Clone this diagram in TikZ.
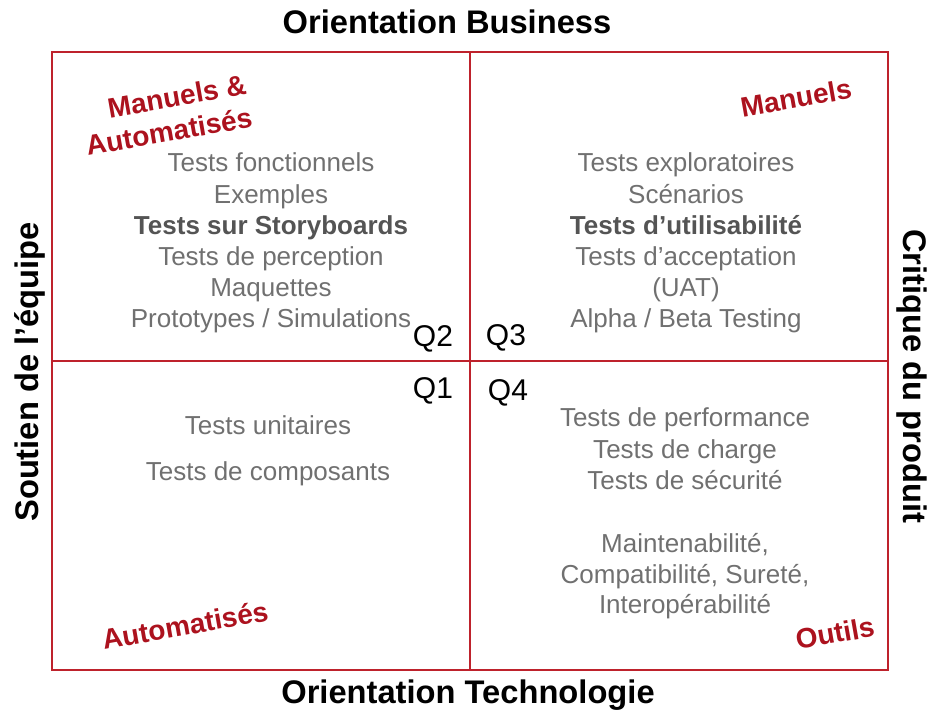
\documentclass[tikz,border=0pt]{standalone}
\usepackage{fontspec}
\setmainfont{Liberation Sans}
\usetikzlibrary{positioning}
\definecolor{rougecadre}{RGB}{190,34,44}
\definecolor{rougetitre}{RGB}{172,18,30}
\definecolor{grisclair}{RGB}{112,112,112}
\definecolor{grisfonce}{RGB}{84,84,84}

\tikzset{
  axe/.style={font=\fontsize{24.5}{28}\selectfont\bfseries, inner sep=0pt},
  liste/.style={text=grisclair, font=\fontsize{19.5}{23}\selectfont, inner sep=0pt,
    text height=14pt, text depth=4pt},
  mode/.style={text=rougetitre, font=\fontsize{21}{25}\selectfont\bfseries,
    rotate=10, align=right, inner sep=0pt},
  quad/.style={font=\fontsize{22.5}{26}\selectfont, inner sep=0pt},
  cadre/.style={rougecadre, line width=1.5pt}
}

\begin{document}
\begin{tikzpicture}[x=0.75pt,y=-0.75pt]
\useasboundingbox (0,0) rectangle (931,716);
\coordinate (no) at (52,52);
\coordinate (se) at (888,670);
\coordinate (haut) at (470,52);
\coordinate (bas) at (470,670);
\coordinate (gauche) at (52,361);
\coordinate (droite) at (888,361);
\draw[cadre] (no) rectangle (se);
\draw[cadre] (haut) -- (bas);
\draw[cadre] (gauche) -- (droite);
\node[axe] (business) at (447,22) {Orientation Business};
\node[axe] (techno) at (468,695) {Orientation Technologie};
\node[axe, rotate=90] (equipe) at (30,372) {Soutien de l’équipe};
\node[axe, rotate=-90] (produit) at (912,376) {Critique du produit};
\node[mode] (manauto) at (166,115) {Manuels \&\\Automatisés};
\node[mode] (manuels) at (796,98) {Manuels};
\node[mode] (auto) at (185,625) {Automatisés};
\node[mode] (outils) at (835,633) {Outils};
\node[quad] (q2) at (433,339) {Q2};
\node[quad] (q3) at (506,338) {Q3};
\node[quad] (q1) at (433,391) {Q1};
\node[quad] (q4) at (508,393) {Q4};
\foreach \t [count=\i] in {Tests fonctionnels, Exemples,
  {\textcolor{grisfonce}{\bfseries Tests sur Storyboards}}, Tests de perception,
  Maquettes, Prototypes / Simulations}
  \node[liste] (gq2-\i) at (271,134+31.2*\i) {\t};
\foreach \t [count=\i] in {Tests exploratoires, Scénarios,
  {\textcolor{grisfonce}{\bfseries Tests d’utilisabilité}}, Tests d’acceptation,
  (UAT), Alpha / Beta Testing}
  \node[liste] (gq3-\i) at (686,134+31.2*\i) {\t};
\node[liste] (gq1-1) at (268,428) {Tests unitaires};
\node[liste] (gq1-2) at (268,474) {Tests de composants};
\foreach \t/\y in {Tests de performance/420, Tests de charge/452,
  Tests de sécurité/483, {Maintenabilité,}/546,
  {Compatibilité, Sureté,}/577, Interopérabilité/607}
  \node[liste] at (685,\y) {\t};
\end{tikzpicture}
\end{document}
